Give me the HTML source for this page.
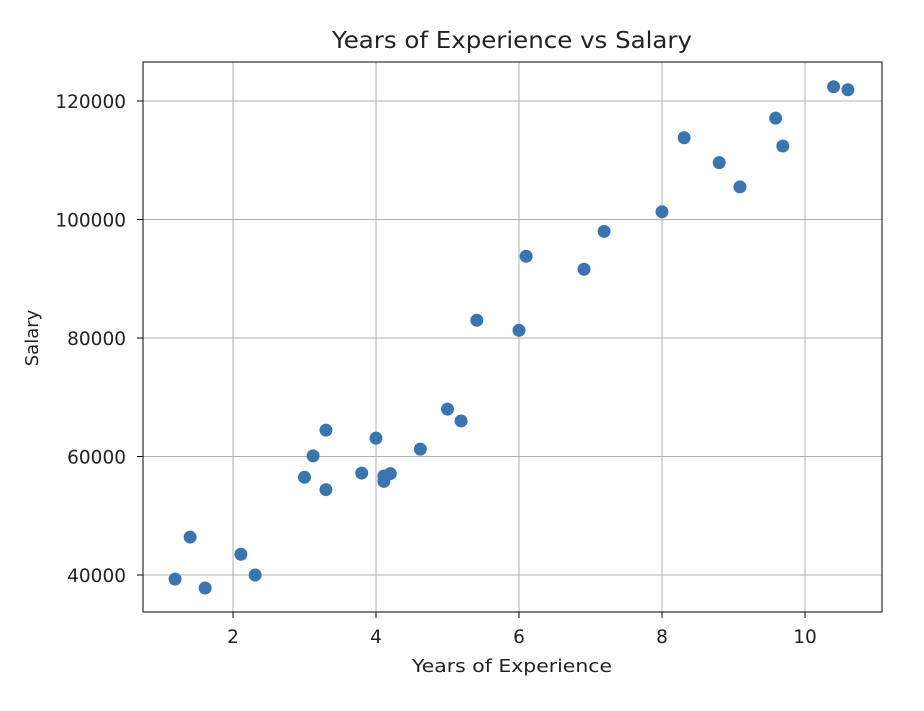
<!DOCTYPE html>
<html><head><meta charset="utf-8"><style>
html,body{margin:0;padding:0;background:#fff;}
svg text{font-family:"DejaVu Sans","Liberation Sans",sans-serif;fill:#222;}
</style></head><body>
<svg id="chart" width="924" height="706" xmlns="http://www.w3.org/2000/svg">
<rect width="924" height="706" fill="#fff"/>
<g id="grid"></g>
<g id="points"></g>
<rect x="143" y="62" width="739" height="550" fill="none" stroke="#000" stroke-width="1"/>
<g id="xticks"></g>
<g id="yticks"></g>
<text x="332" y="48" font-size="23" textLength="360" lengthAdjust="spacingAndGlyphs">Years of Experience vs Salary</text>
<text x="412" y="672" font-size="18" textLength="200" lengthAdjust="spacingAndGlyphs">Years of Experience</text>
<text transform="translate(38,338) rotate(-90)" text-anchor="middle" font-size="18">Salary</text>
</svg>
<script>
const experience = [1.19,1.40,1.61,2.11,2.31,3.0,3.12,3.3,3.3,3.8,4.0,4.11,4.11,4.2,4.62,5.0,5.19,5.41,6.0,6.1,6.91,7.19,8.0,8.31,8.8,9.09,9.59,9.69,10.4,10.6];
const salary = [39300,46400,37800,43500,40000,56500,60100,64450,54400,57200,63100,56700,55800,57100,61250,68000,66000,83000,81300,93800,91600,98000,101300,113800,109600,105500,117100,112400,122400,121900];
const xTicks = [2,4,6,8,10];
const yTicks = [40000,60000,80000,100000,120000];

const L=143,R=882,T=62,B=612;
const xMin=0.741,xMax=11.077,yMin=33755,yMax=126582;
function sx(v){return L+(v-xMin)/(xMax-xMin)*(R-L);}
function sy(v){return B-(v-yMin)/(yMax-yMin)*(B-T);}
const NS="http://www.w3.org/2000/svg";
function mk(tag,attrs,parent){const e=document.createElementNS(NS,tag);for(const k in attrs)e.setAttribute(k,attrs[k]);parent.appendChild(e);return e;}
const grid=document.getElementById('grid'),pts=document.getElementById('points');
const gx=document.getElementById('xticks'),gy=document.getElementById('yticks');
xTicks.forEach(v=>{
  const x=sx(v);
  const g=mk('line',{x1:x,x2:x,y1:T,y2:B,stroke:'#b0b0b0','stroke-width':1},grid);
  
  
  const t=mk('line',{x1:x,x2:x,y1:B,y2:B+6,stroke:'#000'},gx);
  
  
  const l=mk('text',{x:x,y:643,'text-anchor':'middle','font-size':18.5},gx);
  l.textContent=v;
  
  
});
yTicks.forEach(v=>{
  const y=sy(v);
  const g=mk('line',{x1:L,x2:R,y1:y,y2:y,stroke:'#b0b0b0','stroke-width':1},grid);
  
  
  const t=mk('line',{x1:L-6,x2:L,y1:y,y2:y,stroke:'#000'},gy);
  
  
  const l=mk('text',{x:L-17,y:y+7,'text-anchor':'end','font-size':18.5},gy);
  l.textContent=v;
  
  
});
experience.forEach((v,i)=>{
  const c=mk('circle',{cx:sx(v),cy:sy(salary[i]),r:6.5,fill:'#3a75b0'},pts);
  
  
});
</script>
</body></html>
